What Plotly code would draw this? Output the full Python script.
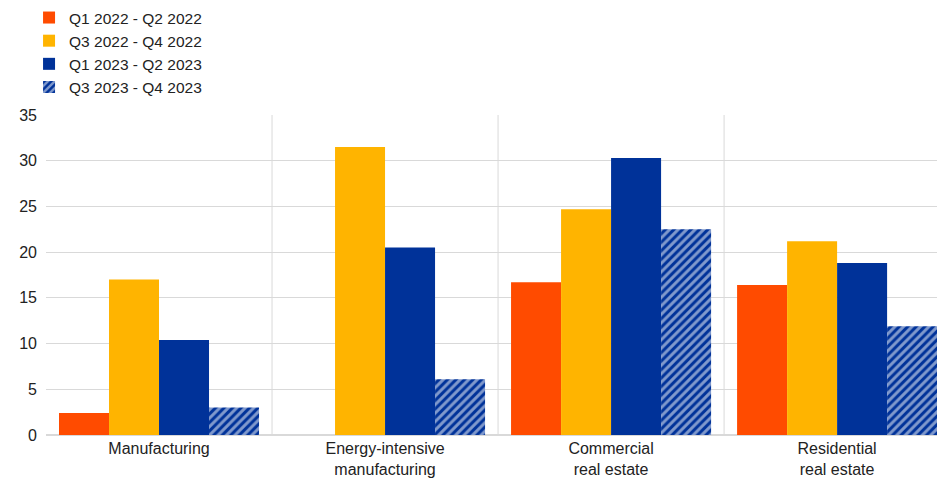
import plotly.graph_objects as go

categories = ["Manufacturing", "Energy-intensive<br>manufacturing",
              "Commercial<br>real estate", "Residential<br>real estate"]
series_names = ["Q1 2022 - Q2 2022", "Q3 2022 - Q4 2022",
                "Q1 2023 - Q2 2023", "Q3 2023 - Q4 2023"]
h1_2022 = [2.4, 0.0, 16.7, 16.4]
h2_2022 = [17.0, 31.5, 24.7, 21.2]
h1_2023 = [10.4, 20.5, 30.3, 18.8]
h2_2023 = [3.0, 6.1, 22.5, 11.9]
y_ticks = [0, 5, 10, 15, 20, 25, 30, 35]

colors = ["#FF4B00", "#FFB400", "#003299", "#003299"]
values = [h1_2022, h2_2022, h1_2023, h2_2023]
xpos = list(range(len(categories)))

fig = go.Figure()
for i, (name, vals) in enumerate(zip(series_names, values)):
    marker = dict(color=colors[i], line=dict(width=0))
    if i == 3:
        marker["pattern"] = dict(shape="/", fgcolor="white", fillmode="overlay",
                                 size=6, solidity=0.5)
    fig.add_trace(go.Bar(x=xpos, y=vals, name=name, marker=marker))

# vertical separators between categories
for k in range(len(categories) - 1):
    fig.add_shape(type="line", xref="x", yref="paper", x0=k + 0.5, x1=k + 0.5,
                  y0=0, y1=1, line=dict(color="#d9d9d9", width=1), layer="below")

fig.update_layout(
    width=937, height=479,
    margin=dict(l=46, r=0, t=115, b=44, autoexpand=False),
    paper_bgcolor="white", plot_bgcolor="white",
    font=dict(family="Arial, Liberation Sans, sans-serif", size=16, color="#222222"),
    barmode="group", bargap=0.115, bargroupgap=0,
    showlegend=True,
    legend=dict(xref="container", yref="container", x=0.031, y=0.998,
                xanchor="left", yanchor="top",
                orientation="v", tracegroupgap=0, itemwidth=30,
                font=dict(size=15.5), bgcolor="rgba(0,0,0,0)"),
    xaxis=dict(tickmode="array", tickvals=xpos, ticktext=categories,
               range=[-0.5, 3.442], showgrid=False, zeroline=False,
               showline=False, ticks="", automargin=False, ticklabelstandoff=2),
    yaxis=dict(range=[0, 35], tickvals=y_ticks, showgrid=True,
               gridcolor="#d9d9d9", zeroline=True, zerolinecolor="#d9d9d9",
               zerolinewidth=2, ticks="", ticklabelstandoff=8, automargin=False),
)

fig.write_html("out.html", config={"displayModeBar": False},
               post_script="document.body.style.margin='0';")
